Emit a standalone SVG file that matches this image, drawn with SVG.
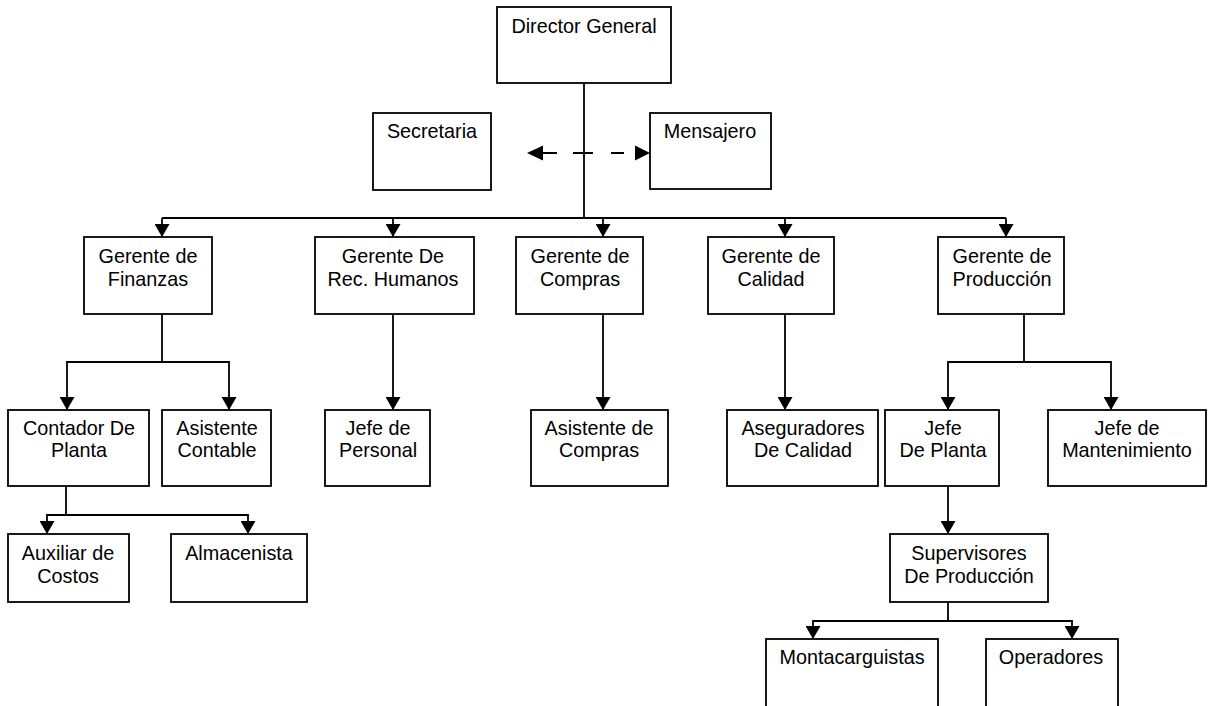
<svg xmlns="http://www.w3.org/2000/svg" width="1209" height="706" viewBox="0 0 1209 706">
<style>
.box{fill:#fff;stroke:#000;stroke-width:1.8}
.t{font-family:"Liberation Sans",Arial,sans-serif;font-size:19.8px;fill:#000;text-anchor:middle}
.c{fill:none;stroke:#000;stroke-width:1.8}
.a{marker-end:url(#ah)}
</style>
<defs>
<marker id="ah" viewBox="0 -7.5 13 15" markerWidth="13" markerHeight="15" refX="13" refY="0" orient="auto" markerUnits="userSpaceOnUse">
<path d="M0,-7.5 L13,0 L0,7.5 z" fill="#000"/>
</marker>
</defs>
<rect width="1209" height="706" fill="#fff"/>
<g id="connectors">
<path class="c" d="M584,83 V218"/>
<path class="c" d="M162,218 H1006"/>
<path class="c a" d="M162,218 V237"/>
<path class="c a" d="M393,218 V237"/>
<path class="c a" d="M603,218 V237"/>
<path class="c a" d="M785,218 V237"/>
<path class="c a" d="M1006,218 V237"/>
<path class="c" d="M543,153 H557 M573,153 H593 M611,153 H624"/>
<polygon points="527,153 543,145.5 543,160.5" fill="#000"/>
<polygon points="650,153 635,145.5 635,160.5" fill="#000"/>
<path class="c a" d="M162,314 V362 H67 V410"/>
<path class="c a" d="M162,362 H229 V410"/>
<path class="c a" d="M393,314 V410"/>
<path class="c a" d="M603,314 V410"/>
<path class="c a" d="M785,314 V410"/>
<path class="c a" d="M1024,314 V362 H948 V410"/>
<path class="c a" d="M1024,362 H1111 V410"/>
<path class="c a" d="M66,486 V515 H47 V534"/>
<path class="c a" d="M66,515 H248 V534"/>
<path class="c a" d="M948,486 V534"/>
<path class="c a" d="M948,602 V621 H813 V639"/>
<path class="c a" d="M948,621 H1072 V639"/>
</g>
<g id="director"><rect class="box" x="497" y="7" width="174" height="76"/><text class="t" x="584" y="33">Director General</text></g>
<g id="secretaria"><rect class="box" x="373" y="113" width="118" height="77"/><text class="t" x="432" y="138">Secretaria</text></g>
<g id="mensajero"><rect class="box" x="650" y="113" width="121" height="76"/><text class="t" x="710" y="138">Mensajero</text></g>
<g id="g-finanzas"><rect class="box" x="84" y="237" width="128" height="77"/><text class="t" x="148" y="263">Gerente de</text><text class="t" x="148" y="286">Finanzas</text></g>
<g id="g-rrhh"><rect class="box" x="315" y="237" width="159" height="77"/><text class="t" x="393" y="263">Gerente De</text><text class="t" x="393" y="286">Rec. Humanos</text></g>
<g id="g-compras"><rect class="box" x="516" y="237" width="127" height="77"/><text class="t" x="580" y="263">Gerente de</text><text class="t" x="580" y="286">Compras</text></g>
<g id="g-calidad"><rect class="box" x="708" y="237" width="126" height="77"/><text class="t" x="771" y="263">Gerente de</text><text class="t" x="771" y="286">Calidad</text></g>
<g id="g-produccion"><rect class="box" x="938" y="237" width="126" height="77"/><text class="t" x="1002" y="263">Gerente de</text><text class="t" x="1002" y="286">Producción</text></g>
<g id="contador"><rect class="box" x="8" y="410" width="141" height="76"/><text class="t" x="79" y="435">Contador De</text><text class="t" x="79" y="457">Planta</text></g>
<g id="asist-contable"><rect class="box" x="162" y="410" width="109" height="76"/><text class="t" x="217" y="435">Asistente</text><text class="t" x="217" y="457">Contable</text></g>
<g id="jefe-personal"><rect class="box" x="325" y="410" width="105" height="76"/><text class="t" x="378" y="435">Jefe de</text><text class="t" x="378" y="457">Personal</text></g>
<g id="asist-compras"><rect class="box" x="531" y="410" width="137" height="76"/><text class="t" x="599" y="435">Asistente de</text><text class="t" x="599" y="457">Compras</text></g>
<g id="aseguradores"><rect class="box" x="727" y="410" width="151" height="76"/><text class="t" x="803" y="435">Aseguradores</text><text class="t" x="803" y="457">De Calidad</text></g>
<g id="jefe-planta"><rect class="box" x="885" y="410" width="114" height="76"/><text class="t" x="943" y="435">Jefe</text><text class="t" x="943" y="457">De Planta</text></g>
<g id="jefe-mant"><rect class="box" x="1048" y="410" width="158" height="76"/><text class="t" x="1127" y="435">Jefe de</text><text class="t" x="1127" y="457">Mantenimiento</text></g>
<g id="auxiliar"><rect class="box" x="8" y="534" width="121" height="68"/><text class="t" x="68" y="560">Auxiliar de</text><text class="t" x="68" y="583">Costos</text></g>
<g id="almacenista"><rect class="box" x="171" y="534" width="136" height="68"/><text class="t" x="239" y="560">Almacenista</text></g>
<g id="supervisores"><rect class="box" x="890" y="534" width="158" height="68"/><text class="t" x="969" y="560">Supervisores</text><text class="t" x="969" y="583">De Producción</text></g>
<g id="montacarguistas"><rect class="box" x="766" y="639" width="172" height="80"/><text class="t" x="852" y="664">Montacarguistas</text></g>
<g id="operadores"><rect class="box" x="986" y="639" width="132" height="80"/><text class="t" x="1051" y="664">Operadores</text></g>
</svg>
